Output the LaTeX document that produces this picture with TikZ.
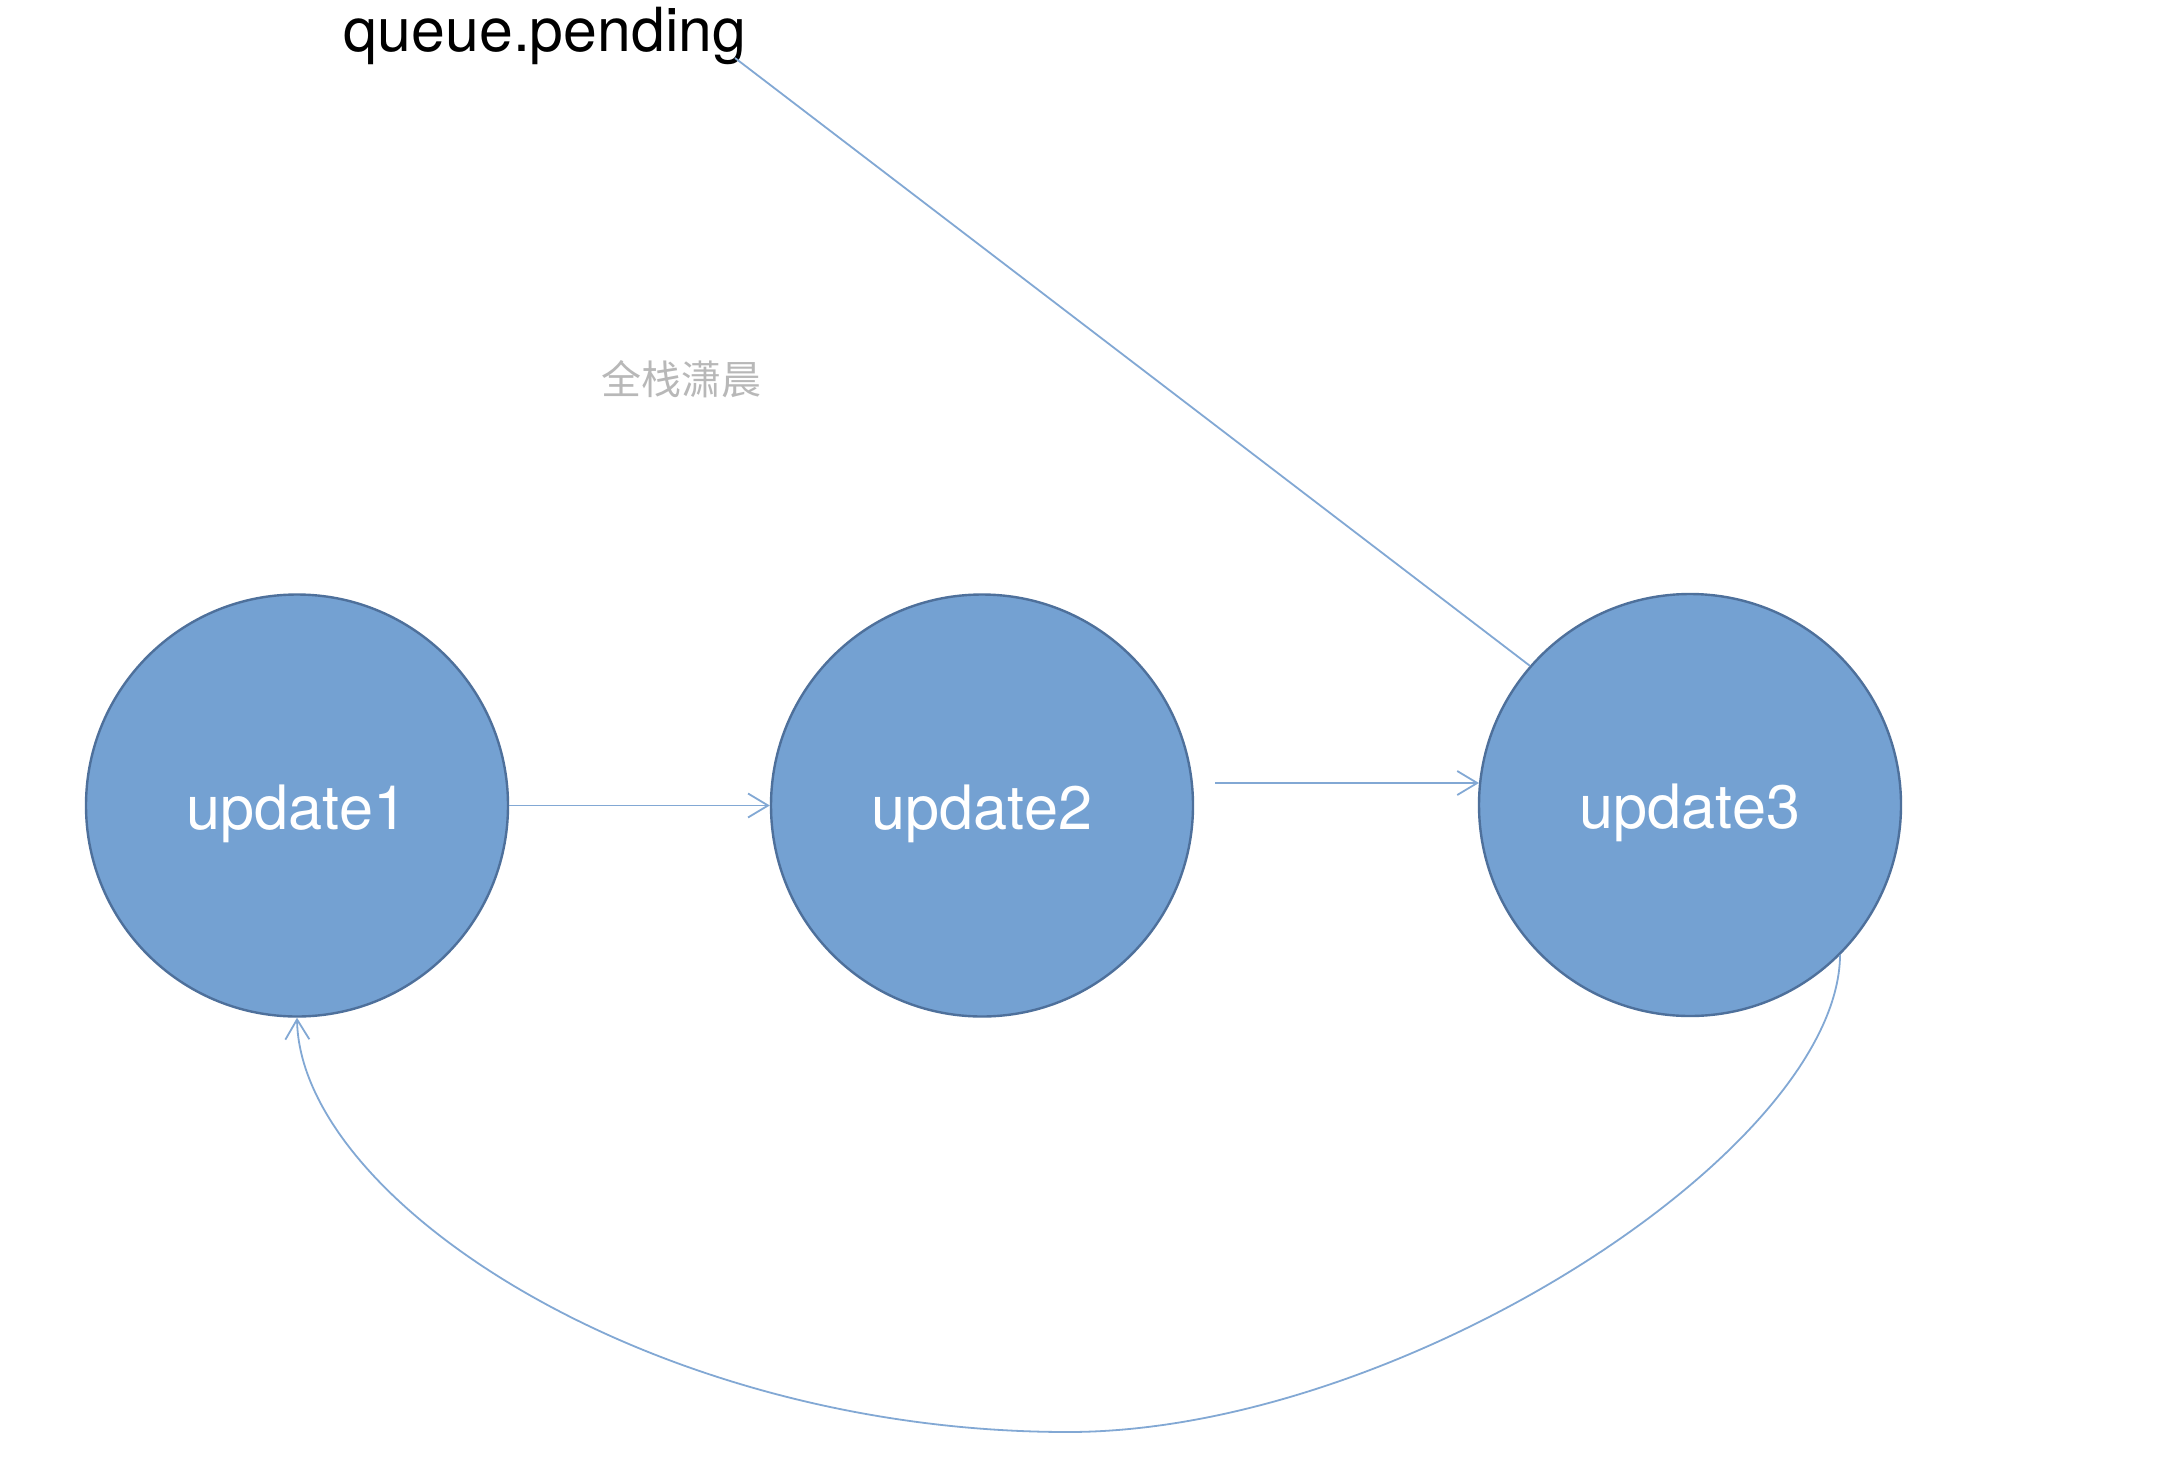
\documentclass[tikz,border=0pt]{standalone}
\usepackage{fontspec}
\setmainfont{TeX Gyre Heros}
\newfontfamily\cjkfont{Noto Sans CJK SC}
\usetikzlibrary{arrows.meta}
\definecolor{nodefill}{RGB}{116,161,210}
\definecolor{nodedraw}{RGB}{78,112,155}
\definecolor{linkcol}{RGB}{130,168,212}
\tikzset{
  upnode/.style={circle, fill=nodefill, draw=nodedraw, line width=1.2pt, minimum size=211pt, inner sep=0pt, text=white, font=\fontsize{30.6}{36}\selectfont, text height=30pt, text depth=6.4pt},
  link/.style={draw=linkcol, line width=0.9pt},
  linkarrow/.style={link, -{Straight Barb[length=10pt,width=12pt,line width=0.9pt]}}
}
\begin{document}
\begin{tikzpicture}[x=0.5pt,y=-0.5pt]
\useasboundingbox[fill=white] (0,0) rectangle (2174,1472);
\node[upnode] (u1) at (297,805.5) {update1};
\node[upnode] (u2) at (982,805.5) {update2};
\node[upnode] (u3) at (1690,805) {update3};
\node[font=\fontsize{30.4}{36}\selectfont, anchor=base] (qp) at (545,51) {queue.pending};
\node[font=\cjkfont\fontsize{20}{24}\selectfont, text=black!28] (wm) at (681,379) {全栈潇晨};
\coordinate (qs) at (735,58);
\coordinate (a2s) at (1215,783);
\draw[linkarrow] (u1.east) -- (u2.west);
\draw[linkarrow] (a2s) -- (a2s -| u3.174);
\draw[link] (qs) -- (u3.139);
\coordinate (cb) at (1068,1432);
\draw[linkarrow] (u3.-45) .. controls (1838,1150) and (1400,1432) .. (cb)
  .. controls (650,1432) and (300,1200) .. (u1.south);
\end{tikzpicture}
\end{document}
